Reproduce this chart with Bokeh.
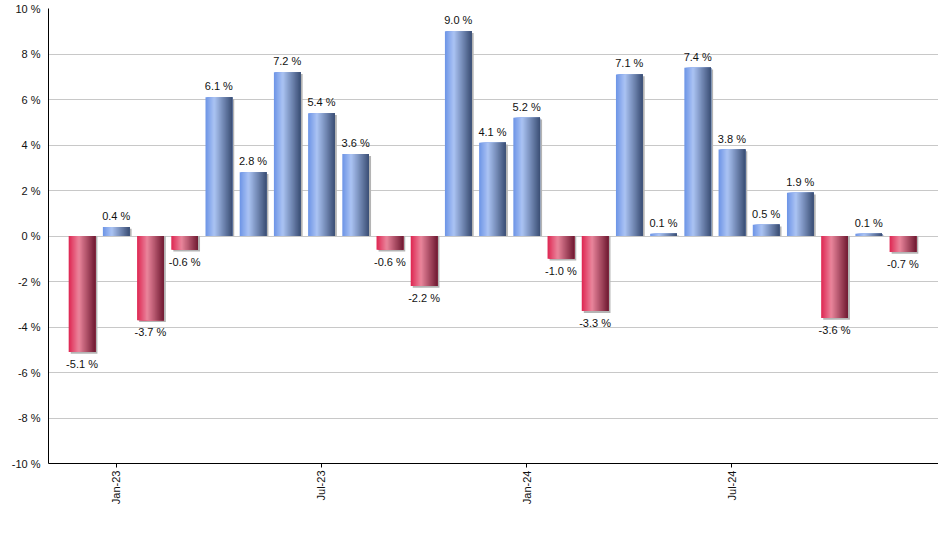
import numpy as np
from bokeh.plotting import figure
from bokeh.models import ColumnDataSource, FixedTicker, Range1d
from bokeh.transform import dodge
from bokeh.core.properties import value
from bokeh.embed import file_html
from bokeh.resources import INLINE

# ---- data ----
months = ["Dec-22", "Jan-23", "Feb-23", "Mar-23", "Apr-23", "May-23", "Jun-23",
          "Jul-23", "Aug-23", "Sep-23", "Oct-23", "Nov-23", "Dec-23",
          "Jan-24", "Feb-24", "Mar-24", "Apr-24", "May-24", "Jun-24",
          "Jul-24", "Aug-24", "Sep-24", "Oct-24", "Nov-24", "Dec-24"]
returns = [-5.1, 0.4, -3.7, -0.6, 6.1, 2.8, 7.2, 5.4, 3.6, -0.6, -2.2, 9.0,
           4.1, 5.2, -1.0, -3.3, 7.1, 0.1, 7.4, 3.8, 0.5, 1.9, -3.6, 0.1, -0.7]
x_tick_months = ["Jan-23", "Jul-23", "Jan-24", "Jul-24"]
y_ticks = [-10, -8, -6, -4, -2, 0, 2, 4, 6, 8, 10]
y_tick_labels = [f"{t} %" for t in y_ticks]

FONT = "Liberation Sans"
BAR_W = 0.78
N_STRIPS = 24

idx = list(range(len(months)))
pos = [i for i in idx if returns[i] >= 0]
neg = [i for i in idx if returns[i] < 0]

pos_src = ColumnDataSource(dict(x=pos, top=[returns[i] for i in pos], bottom=[0.0] * len(pos),
                                label=[f"{returns[i]:.1f} %" for i in pos]))
neg_src = ColumnDataSource(dict(x=neg, top=[0.0] * len(neg), bottom=[returns[i] for i in neg],
                                label=[f"{returns[i]:.1f} %" for i in neg]))

p = figure(width=938, height=540, output_backend="svg", toolbar_location=None,
           x_range=Range1d(-0.98, 25.04), y_range=Range1d(-10, 10),
           min_border_left=48, min_border_right=0, min_border_top=8, min_border_bottom=77)
p.outline_line_color = None
p.background_fill_color = "white"
p.border_fill_color = "white"

# shadows
p.vbar(x=dodge("x", 0.06), width=BAR_W, top=dodge("top", -0.08), bottom="bottom",
       source=pos_src, fill_color="#b4b4b4", line_color=None)
p.vbar(x=dodge("x", 0.06), width=BAR_W, top="top", bottom=dodge("bottom", -0.08),
       source=neg_src, fill_color="#b4b4b4", line_color=None)


def grad(stops, t):
    prev = [s for s in stops if s[0] <= t][-1]
    nxt = [s for s in stops if s[0] > t]
    t0, c0 = prev
    if not nxt:
        c = c0
    else:
        t1, c1 = nxt[0]
        f = (t - t0) / (t1 - t0)
        c = tuple(c0[k] + (c1[k] - c0[k]) * f for k in range(3))
    return "#%02x%02x%02x" % tuple(int(round(v)) for v in c)


blue_stops = [(0.0, (0x6c, 0x94, 0xe6)), (0.33, (0xab, 0xc4, 0xf4)), (1.0, (0x3a, 0x4e, 0x74))]
red_stops = [(0.0, (0xde, 0x26, 0x52)), (0.38, (0xea, 0x86, 0x9c)), (1.0, (0x70, 0x1a, 0x32))]

# gradient: layered strips, each running from its own left edge to the bar's right edge
sw = BAR_W / N_STRIPS
for k in range(N_STRIPS):
    t = (k + 0.5) / N_STRIPS
    wk = BAR_W - sw * k
    off = BAR_W / 2 - wk / 2
    p.vbar(x=dodge("x", off), width=wk, top="top", bottom="bottom", source=pos_src,
           fill_color=grad(blue_stops, t), line_color=None)
    p.vbar(x=dodge("x", off), width=wk, top="top", bottom="bottom", source=neg_src,
           fill_color=grad(red_stops, t), line_color=None)

# value labels
p.text(x="x", y="top", text="label", source=pos_src, text_align="center",
       text_baseline="bottom", y_offset=-5, text_font=value(FONT),
       text_font_size="11px", text_color="#111111")
p.text(x="x", y="bottom", text="label", source=neg_src, text_align="center",
       text_baseline="top", y_offset=6, text_font=value(FONT),
       text_font_size="11px", text_color="#111111")

# axes
tick_idx = [months.index(m) for m in x_tick_months]
p.xaxis.ticker = FixedTicker(ticks=tick_idx)
p.xaxis.major_label_overrides = {i: m for i, m in zip(tick_idx, x_tick_months)}
p.xaxis.major_label_orientation = np.pi / 2
p.xaxis.minor_tick_line_color = None
p.xaxis.major_tick_in = 0
p.xaxis.major_tick_out = 4
p.xaxis.major_label_standoff = 3
p.xaxis.axis_line_color = "black"
p.xaxis.major_tick_line_color = "black"

p.yaxis.ticker = FixedTicker(ticks=y_ticks)
p.yaxis.major_label_overrides = {t: l for t, l in zip(y_ticks, y_tick_labels)}
p.yaxis.major_tick_line_color = None
p.yaxis.minor_tick_line_color = None
p.yaxis.major_label_standoff = 2
p.yaxis.axis_line_color = "black"

for ax in (p.xaxis, p.yaxis):
    ax.major_label_text_font = FONT
    ax.major_label_text_font_size = "11px"
    ax.major_label_text_color = "#111111"

p.xgrid.grid_line_color = None
p.ygrid.ticker = FixedTicker(ticks=y_ticks)
p.ygrid.grid_line_color = "#c8c8c8"

open("out.html", "w").write(file_html(p, INLINE))
